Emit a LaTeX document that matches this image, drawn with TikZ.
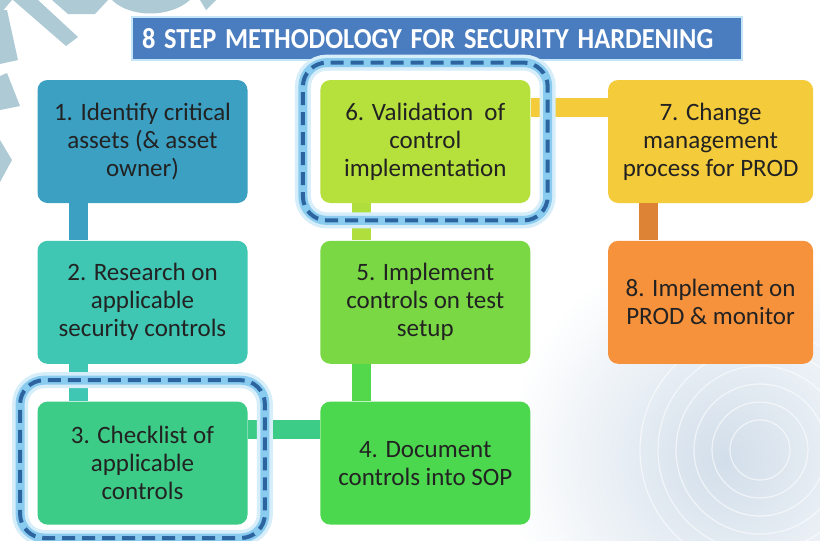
\documentclass[tikz,border=0pt]{standalone}
\usepackage{fontspec}
\setmainfont{Carlito}
\usetikzlibrary{positioning, fit}
\definecolor{c1}{HTML}{3CA0C3}
\definecolor{c2}{HTML}{3FC7B3}
\definecolor{c3}{HTML}{3DCC87}
\definecolor{c4}{HTML}{4CD84E}
\definecolor{c5}{HTML}{79D844}
\definecolor{c6}{HTML}{B6E03C}
\definecolor{c7}{HTML}{F4CB3A}
\definecolor{c8}{HTML}{F6923C}
\definecolor{txt}{HTML}{222222}
\definecolor{bannerblue}{HTML}{4A7CC0}
\definecolor{ringdash}{HTML}{2C64A0}
\definecolor{ringglow}{HTML}{8ACCF0}
\definecolor{deco}{HTML}{AECBD5}
\definecolor{texture}{HTML}{D2DEEA}
\tikzset{stepbox/.style={rectangle,rounded corners=5pt,align=center,inner sep=3pt,minimum width=105pt,minimum height=61.5pt,text=txt,font=\fontsize{12.5}{14}\selectfont},link/.style={line width=9.5pt},ring/.style={draw=ringdash,line width=2pt,dash pattern=on 6.5pt off 3.5pt,rounded corners=12pt,inner sep=8.5pt,preaction={draw=ringglow!35,solid,line width=8pt},preaction={draw=ringglow,solid,line width=4.5pt}},banner/.style={rectangle,fill=bannerblue,draw=ringglow!50,line width=1pt,text=white,align=left,text width=295pt,inner xsep=5pt,minimum height=21.5pt,font=\fontsize{14.5}{16}\selectfont\bfseries}}

\begin{document}
\begin{tikzpicture}[x=0.5pt,y=-0.5pt,node distance=18.5pt and 36pt]
\useasboundingbox (0,0) rectangle (820,541);
\fill[white] (0,0) rectangle (820,541);
% background marks
\shade[inner color=texture,outer color=white] (725,460) circle (110pt);
\foreach \r in {30,48,66,84,102,120}
  \draw[white,line width=0.6pt,opacity=0.6] (760,450) circle (\r*0.5pt);
\fill[deco] (0,0) -- (12,0) -- (0,14) -- cycle;
\fill[deco] (13,0) -- (38,0) -- (78,37) -- (66,46) -- cycle;
\fill[deco] (52,0) -- (108,0) -- (95,14) -- (68,14) -- cycle;
\fill[deco] (112,0) .. controls (130,18) and (170,18) .. (190,0) -- cycle;
\fill[deco] (200,0) -- (216,0) -- (206,10) -- cycle;
\fill[deco] (0,10) -- (7,10) -- (18,60) -- (0,64) -- cycle;
\fill[deco] (0,76) -- (7,73) -- (20,106) -- (0,110) -- cycle;
\fill[deco] (0,140) -- (12,160) -- (0,182) -- cycle;

\node[banner] (title) at (437,38.5) {\scalebox{0.91}[1]{8 STEP METHODOLOGY FOR SECURITY HARDENING}};

\node[stepbox, fill=c1] (s1) at (142.5,141.5) {1. Identify critical\\assets (\& asset\\owner)};
\node[stepbox, fill=c2, below=of s1] (s2) {2. Research on\\applicable\\security controls};
\node[stepbox, fill=c3, below=of s2] (s3) {3. Checklist of\\applicable\\controls};
\node[stepbox, fill=c4, right=of s3] (s4) {4. Document\\controls into SOP};
\node[stepbox, fill=c5, above=of s4] (s5) {5. Implement\\controls on test\\setup};
\node[stepbox, fill=c6, above=of s5] (s6) {6. Validation\ \ of\\control\\implementation};
\node[stepbox, fill=c7, minimum width=102.5pt, right=38.5pt of s6] (s7) {7. Change\\management\\process for PROD};
\node[stepbox, fill=c8, minimum width=102.5pt, below=of s7] (s8) {8. Implement on\\PROD \& monitor};

\draw[link, draw=c1] ([xshift=-32pt]s1.south) -- ([xshift=-32pt]s2.north);
\draw[link, draw=c2] ([xshift=-32pt]s2.south) -- ([xshift=-32pt]s3.north);
\draw[link, draw=c3] ([yshift=17pt]s3.east) -- ([yshift=17pt]s4.west);
\draw[link, draw=c4!85!c5] ([xshift=-32pt]s4.north) -- ([xshift=-32pt]s5.south);
\draw[link, draw=c6!90!c5] ([xshift=-32pt]s5.north) -- ([xshift=-32pt]s6.south);
\draw[link, draw=c7] ([yshift=17pt]s6.east) -- ([yshift=17pt]s7.west);
\draw[link, draw=c8!90!black] ([xshift=-31pt]s7.south) -- ([xshift=-31pt]s8.north);

% highlighted steps
\node[ring, fit=(s3), yshift=2pt] (r3) {};
\node[ring, fit=(s6)] (r6) {};
\end{tikzpicture}
\end{document}
